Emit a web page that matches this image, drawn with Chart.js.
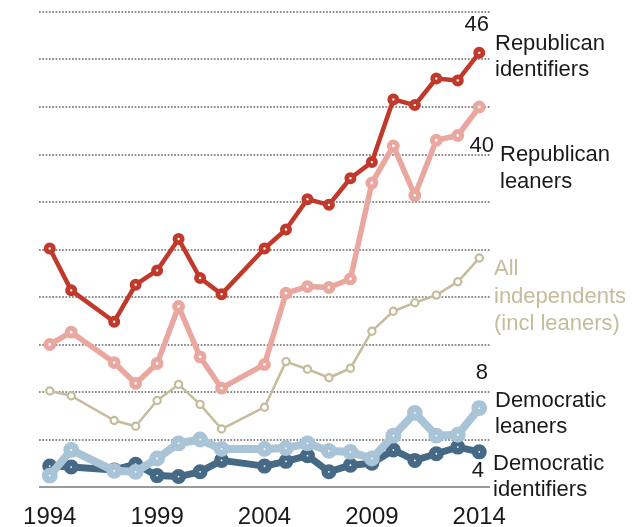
<!DOCTYPE html>
<html>
<head>
<meta charset="utf-8">
<script src="https://cdn.jsdelivr.net/npm/chart.js@4"></script>
<style>
  html, body { margin: 0; padding: 0; background: #fff; }
  #wrap { width: 641px; height: 527px; position: relative; }
</style>
</head>
<body>
<div id="wrap"><canvas id="chart"></canvas></div>
<script>
const years = [1994, 1995, 1997, 1998, 1999, 2000, 2001, 2002, 2004, 2005, 2006, 2007, 2008, 2009, 2010, 2011, 2012, 2013, 2014];
const xTicks = [1994, 1999, 2004, 2009, 2014];

const repIdentifiers = [25.1, 20.7, 17.4, 21.3, 22.8, 26.1, 22.0, 20.3, 25.1, 27.1, 30.3, 29.7, 32.5, 34.2, 40.8, 40.2, 43.0, 42.8, 45.7];
const repLeaners = [15.0, 16.3, 13.1, 10.9, 13.0, 19.0, 13.7, 10.4, 12.9, 20.4, 21.1, 21.0, 21.9, 32.0, 35.9, 30.7, 36.5, 37.0, 40.0];
const allIndependents = [10.1, 9.6, 7.0, 6.4, 9.1, 10.8, 8.7, 6.1, 8.4, 13.2, 12.4, 11.5, 12.5, 16.4, 18.5, 19.4, 20.2, 21.6, 24.1];
const demLeaners = [1.2, 3.9, 1.7, 1.6, 3.0, 4.6, 5.0, 4.0, 4.0, 4.1, 4.6, 3.8, 3.7, 3.0, 5.4, 7.8, 5.4, 5.5, 8.3];
const demIdentifiers = [2.2, 2.1, 1.8, 2.4, 1.2, 1.1, 1.6, 2.8, 2.2, 2.7, 3.3, 1.6, 2.3, 2.5, 3.9, 2.8, 3.5, 4.2, 3.7];

const FONT = "'Liberation Sans', Arial, sans-serif";

// text labels beside the lines
const labels = [
  { text: "46", x: 489, y: 25, align: "right", color: "#1a1a1a" },
  { text: "Republican", x: 495, y: 44, align: "left", color: "#1a1a1a" },
  { text: "identifiers", x: 495, y: 70, align: "left", color: "#1a1a1a" },
  { text: "40", x: 494, y: 146, align: "right", color: "#1a1a1a" },
  { text: "Republican", x: 500, y: 155, align: "left", color: "#1a1a1a" },
  { text: "leaners", x: 500, y: 182, align: "left", color: "#1a1a1a" },
  { text: "All", x: 494, y: 269, align: "left", color: "#c5bc9b" },
  { text: "independents", x: 494, y: 297, align: "left", color: "#c5bc9b" },
  { text: "(incl leaners)", x: 494, y: 324, align: "left", color: "#c5bc9b" },
  { text: "8", x: 488, y: 373, align: "right", color: "#1a1a1a" },
  { text: "Democratic", x: 495, y: 401, align: "left", color: "#1a1a1a" },
  { text: "leaners", x: 495, y: 427, align: "left", color: "#1a1a1a" },
  { text: "4", x: 484, y: 471, align: "right", color: "#1a1a1a" },
  { text: "Democratic", x: 493, y: 464, align: "left", color: "#1a1a1a" },
  { text: "identifiers", x: 493, y: 490, align: "left", color: "#1a1a1a" },
];

function series(values, color, width, radius, ringWidth) {
  return {
    data: values.map((v, i) => ({ x: years[i], y: v })),
    borderColor: color,
    borderWidth: width,
    pointRadius: radius,
    pointHoverRadius: radius,
    pointBackgroundColor: "#ffffff",
    pointBorderColor: color,
    pointBorderWidth: ringWidth,
    borderJoinStyle: "round",
    borderCapStyle: "round",
    tension: 0,
  };
}

const labelPlugin = {
  id: "sideLabels",
  afterDraw(chart) {
    const ctx = chart.ctx;
    ctx.save();
    ctx.font = "22px " + FONT;
    ctx.textBaseline = "middle";
    labels.forEach((l) => {
      ctx.fillStyle = l.color;
      ctx.textAlign = l.align;
      ctx.fillText(l.text, l.x, l.y);
    });
    ctx.restore();
  },
};

// dotted horizontal grid, solid baseline at 0
const gridPlugin = {
  id: "dottedGrid",
  beforeDatasetsDraw(chart) {
    const { ctx, chartArea, scales } = chart;
    ctx.save();
    for (let v = 0; v <= 50; v += 5) {
      const y = Math.round(scales.y.getPixelForValue(v));
      ctx.beginPath();
      if (v === 0) {
        ctx.setLineDash([]);
        ctx.strokeStyle = "#9a9a9a";
      } else {
        ctx.setLineDash([1.7, 1.6]);
        ctx.strokeStyle = "#8c8c8c";
      }
      ctx.lineWidth = 2;
      ctx.moveTo(chartArea.left, y);
      ctx.lineTo(chartArea.right, y);
      ctx.stroke();
    }
    ctx.restore();
  },
};

// first dataset is painted on top
new Chart(document.getElementById("chart"), {
  type: "line",
  data: {
    datasets: [
      series(repIdentifiers, "#c0392a", 4.5, 3.6, 4.8),
      series(repLeaners, "#eaa79f", 5.5, 3.9, 5),
      series(allIndependents, "#c5bc9b", 2.5, 3.6, 2.2),
      series(demLeaners, "#a9c3d7", 8, 4.4, 7),
      series(demIdentifiers, "#466a85", 7, 4.2, 6.6),
    ],
  },
  options: {
    responsive: true,
    maintainAspectRatio: false,
    animation: false,
    parsing: false,
    layout: { padding: { left: 39, right: 151, top: 12, bottom: 0 } },
    plugins: { legend: { display: false }, tooltip: { enabled: false } },
    scales: {
      x: {
        type: "linear",
        min: 1993.5,
        max: 2014.5,
        afterBuildTicks: (s) => { s.ticks = xTicks.map((v) => ({ value: v })); },
        afterFit: (s) => { s.height = 40; },
        grid: { display: false, drawTicks: false },
        border: { display: false },
        ticks: {
          color: "#1a1a1a",
          font: { family: FONT, size: 24 },
          padding: 16,
          maxRotation: 0,
          callback: (v) => String(v),
        },
      },
      y: {
        min: 0,
        max: 50,
        afterFit: (s) => { s.width = 0; },
        ticks: { display: false, stepSize: 5 },
        border: { display: false },
        grid: { display: false, drawTicks: false },
      },
    },
  },
  plugins: [gridPlugin, labelPlugin],
});
</script>
</body>
</html>
